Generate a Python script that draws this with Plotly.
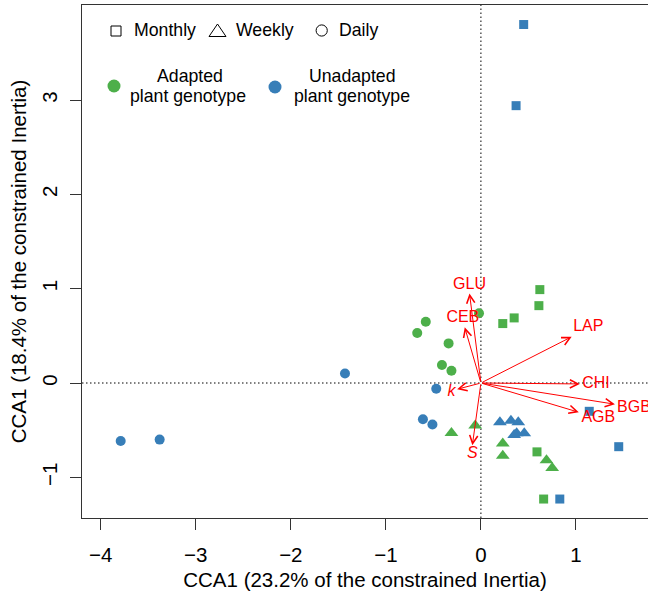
import plotly.graph_objects as go

GREEN = "#4DAF4A"
BLUE = "#377EB8"
RED = "#FF0000"
FONT = "Liberation Sans, Arial, sans-serif"

# ---- site scores (CCA1, CCA2) ----
adapted_monthly_x = [0.62, 0.61, 0.35, 0.23, 0.59, 0.66]
adapted_monthly_y = [0.99, 0.82, 0.69, 0.63, -0.73, -1.23]
adapted_weekly_x = [-0.31, -0.06, 0.23, 0.23, 0.69, 0.75]
adapted_weekly_y = [-0.53, -0.45, -0.64, -0.77, -0.82, -0.90]
adapted_daily_x = [-0.58, -0.67, -0.34, -0.41, -0.31, -0.02]
adapted_daily_y = [0.65, 0.53, 0.42, 0.19, 0.13, 0.74]

unadapted_monthly_x = [0.45, 0.37, 1.14, 1.45, 0.83]
unadapted_monthly_y = [3.80, 2.94, -0.30, -0.675, -1.23]
unadapted_weekly_x = [0.20, 0.316, 0.393, 0.376, 0.456, 0.35]
unadapted_weekly_y = [-0.417, -0.40, -0.417, -0.533, -0.533, -0.55]
unadapted_daily_x = [-0.47, -0.61, -0.51, -1.43, -3.79, -3.38]
unadapted_daily_y = [-0.06, -0.385, -0.44, 0.10, -0.615, -0.60]

# ---- environmental vectors ----
arrow_names = ["GLU", "CEB", "LAP", "CHI", "BGB", "AGB", "<i>k</i>", "<i>S</i>"]
arrow_x = [-0.12, -0.17, 0.955, 1.04, 1.41, 1.03, -0.25, -0.09]
arrow_y = [0.95, 0.59, 0.49, -0.01, -0.225, -0.31, -0.066, -0.66]
label_x = [-0.12, -0.19, 1.13, 1.21, 1.61, 1.235, -0.31, -0.09]
label_y = [1.04, 0.685, 0.59, -0.01, -0.26, -0.375, -0.09, -0.75]

x_ticks = [-4, -3, -2, -1, 0, 1]
y_ticks = [-1, 0, 1, 2, 3]

W, H = 648, 598
ML, MR, MT, MB = 82, 0, 5, 80
X_RANGE = [-4.197, 1.758]
Y_RANGE = [-1.431, 4.007]
AX_FONT = 20.5


def pxx(p):
    return (p - ML) / (W - ML - MR)


def pxy(p):
    return (H - MB - p) / (H - MT - MB)


def fmt(v):
    return ("\u2212" + str(-v)) if v < 0 else str(v)


fig = go.Figure()

groups = [
    (adapted_monthly_x, adapted_monthly_y, GREEN, "square", 9),
    (adapted_weekly_x, adapted_weekly_y, GREEN, "triangle-up", 12),
    (adapted_daily_x, adapted_daily_y, GREEN, "circle", 10),
    (unadapted_monthly_x, unadapted_monthly_y, BLUE, "square", 9),
    (unadapted_weekly_x, unadapted_weekly_y, BLUE, "triangle-up", 12),
    (unadapted_daily_x, unadapted_daily_y, BLUE, "circle", 10),
]
for gx, gy, col, sym, sz in groups:
    fig.add_trace(go.Scatter(
        x=gx, y=gy, mode="markers",
        marker=dict(color=col, symbol=sym, size=sz, line=dict(width=0)),
        showlegend=False, hoverinfo="x+y",
    ))

# arrows
for ax_, ay_ in zip(arrow_x, arrow_y):
    fig.add_annotation(
        x=ax_, y=ay_, ax=0, ay=0, xref="x", yref="y", axref="x", ayref="y",
        text="", showarrow=True, arrowhead=5, arrowsize=1.6, arrowwidth=1,
        arrowcolor=RED, standoff=0, startstandoff=0,
    )

fig.add_trace(go.Scatter(
    x=label_x, y=label_y, mode="text", text=arrow_names,
    textfont=dict(color=RED, size=16, family=FONT),
    textposition="middle center", showlegend=False, hoverinfo="skip",
    cliponaxis=True,
))

shapes = [
    dict(type="line", xref="x", yref="paper", x0=0, x1=0, y0=0, y1=1,
         line=dict(color="black", width=1, dash="1.5px,2.5px"), layer="below"),
    dict(type="line", xref="paper", yref="y", x0=0, x1=1, y0=0, y1=0,
         line=dict(color="black", width=1, dash="1.5px,2.5px"), layer="below"),
]

# legend symbols (open shapes)
sq_c, sq_h = (116, 31), 5
shapes.append(dict(type="rect", xref="paper", yref="paper",
                   x0=pxx(sq_c[0] - sq_h), x1=pxx(sq_c[0] + sq_h),
                   y0=pxy(sq_c[1] + sq_h), y1=pxy(sq_c[1] - sq_h),
                   line=dict(color="black", width=1)))
tri = [(209, 36.5), (226, 36.5), (217.5, 24)]
path = "M {} {} L {} {} L {} {} Z".format(
    pxx(tri[0][0]), pxy(tri[0][1]), pxx(tri[1][0]), pxy(tri[1][1]),
    pxx(tri[2][0]), pxy(tri[2][1]))
shapes.append(dict(type="path", xref="paper", yref="paper", path=path,
                   line=dict(color="black", width=1)))
ci_c, ci_r = (321.7, 30.5), 5.6
shapes.append(dict(type="circle", xref="paper", yref="paper",
                   x0=pxx(ci_c[0] - ci_r), x1=pxx(ci_c[0] + ci_r),
                   y0=pxy(ci_c[1] + ci_r), y1=pxy(ci_c[1] - ci_r),
                   line=dict(color="black", width=1)))
for (cx, cy), col in [((114, 86), GREEN), ((275, 87), BLUE)]:
    r = 6.5
    shapes.append(dict(type="circle", xref="paper", yref="paper",
                       x0=pxx(cx - r), x1=pxx(cx + r),
                       y0=pxy(cy + r), y1=pxy(cy - r),
                       fillcolor=col, line=dict(color=col, width=0)))

LEG_FONT = dict(family=FONT, size=17.7, color="black")
legend_texts = [
    ("Monthly", 132, 30, "left"),
    ("Weekly", 233.5, 30, "left"),
    ("Daily", 337, 30, "left"),
    ("Adapted", 190, 76, "center"),
    ("plant genotype", 188.3, 96.5, "center"),
    ("Unadapted", 352.5, 76, "center"),
    ("plant genotype", 352.2, 96.5, "center"),
]
for txt, px, py, anc in legend_texts:
    fig.add_annotation(x=pxx(px), y=pxy(py), xref="paper", yref="paper",
                       text=txt, showarrow=False, xanchor=anc, yanchor="middle",
                       font=LEG_FONT)

fig.update_layout(
    width=W, height=H,
    margin=dict(l=ML, r=MR, t=MT, b=MB, pad=0, autoexpand=False),
    paper_bgcolor="white", plot_bgcolor="white",
    font=dict(family=FONT, size=AX_FONT, color="black"),
    shapes=shapes,
    xaxis=dict(
        range=X_RANGE, tickvals=x_ticks, ticktext=[fmt(v) for v in x_ticks],
        showgrid=False, zeroline=False, automargin=False,
        showline=True, linecolor="#333333", linewidth=1, mirror=True,
        ticks="outside", ticklen=11, tickcolor="#333333", tickwidth=1,
        ticklabelstandoff=7,
        tickfont=dict(size=AX_FONT),
        title=dict(text="CCA1 (23.2% of the constrained Inertia)", font=dict(size=AX_FONT), standoff=8),
    ),
    yaxis=dict(
        range=Y_RANGE, tickvals=y_ticks, ticktext=[fmt(v) for v in y_ticks],
        showgrid=False, zeroline=False, automargin=False,
        showline=True, linecolor="#333333", linewidth=1, mirror=False,
        ticks="outside", ticklen=11, tickcolor="#333333", tickwidth=1,
        tickangle=-90, ticklabelstandoff=5,
        tickfont=dict(size=AX_FONT),
        title=dict(text="CCA1 (18.4% of the constrained Inertia)", font=dict(size=AX_FONT), standoff=5),
    ),
)

fig.write_html(
    "out.html",
    config={"displayModeBar": False},
    post_script="document.body.style.margin='0';document.body.style.overflow='hidden';",
)
